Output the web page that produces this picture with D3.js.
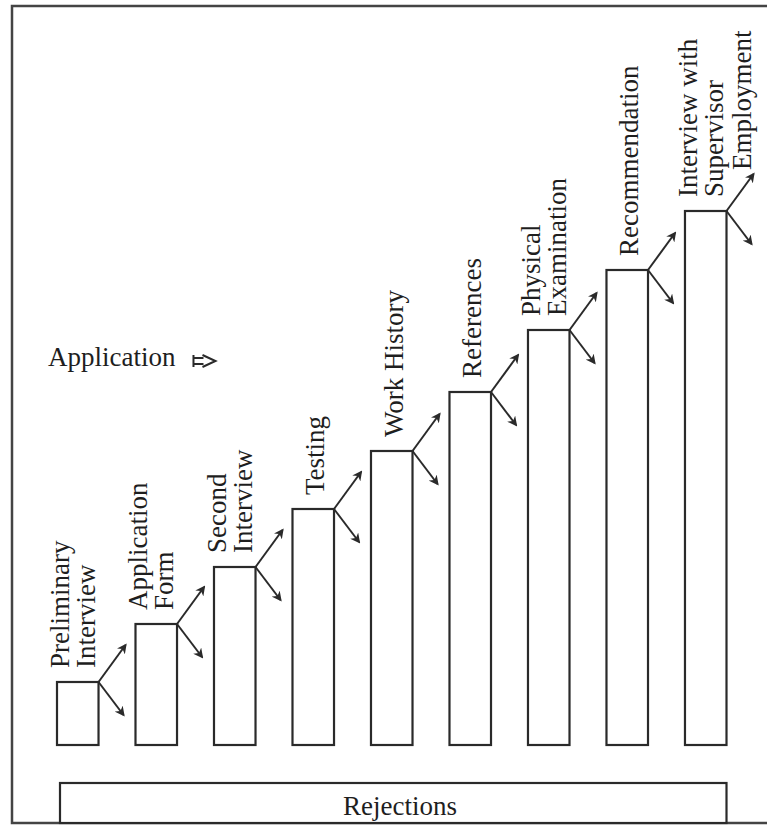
<!DOCTYPE html>
<html>
<head>
<meta charset="utf-8">
<script src="https://cdn.jsdelivr.net/npm/d3@7"></script>
<style>
  html, body { margin: 0; padding: 0; background: #fff; }
  svg { display: block; }
  .lbl { font-family: "Liberation Serif", "Times New Roman", serif; font-size: 27px; fill: #1e1e1e; }
</style>
</head>
<body>
<svg id="chart" width="767" height="826"></svg>
<script>
// stages of the selection process (each label may span two lines)
const stages = [
  ['Preliminary', 'Interview'],
  ['Application', 'Form'],
  ['Second', 'Interview'],
  ['Testing'],
  ['Work History'],
  ['References'],
  ['Physical', 'Examination'],
  ['Recommendation'],
  ['Interview with', 'Supervisor']
];
// relative step height of each stage
const levels = [63, 121, 178, 236, 294, 353, 415, 475, 534];
const entryLabel = 'Application';
const exitLabel = 'Employment';
const rejectLabel = 'Rejections';

(function () {
  'use strict';

  const W = 767, H = 826;
  const base = 745;
  const svg = d3.select('#chart');
  const ink = '#2a2a2a';

  svg.append('rect').attr('width', W).attr('height', H).attr('fill', '#fff');

  // outer frame (runs off the right edge)
  svg.append('rect')
    .attr('x', 12).attr('y', 6)
    .attr('width', W + 10).attr('height', 817)
    .attr('fill', 'none').attr('stroke', '#444').attr('stroke-width', 2.5);

  const idx = stages.map(function (d, i) { return i; });

  const x = d3.scaleBand()
    .domain(idx)
    .range([57, 726.5])
    .paddingInner(0.471)
    .paddingOuter(0);

  const y = d3.scaleLinear()
    .domain([0, 740])
    .range([base, base - 740]);

  // arrow head
  svg.append('defs').append('marker')
    .attr('id', 'head')
    .attr('viewBox', '0 0 10 10')
    .attr('refX', 8).attr('refY', 5)
    .attr('markerWidth', 5).attr('markerHeight', 5)
    .attr('orient', 'auto')
    .append('path')
    .attr('d', 'M0,0 L10,5 L0,10 L3,5 Z')
    .attr('fill', ink);

  // ─── Steps ────────────────────────────────────────
  svg.append('g').selectAll('rect')
    .data(idx)
    .join('rect')
    .attr('x', function (i) { return x(i); })
    .attr('y', function (i) { return y(levels[i]); })
    .attr('width', x.bandwidth())
    .attr('height', function (i) { return base - y(levels[i]); })
    .attr('fill', '#fff')
    .attr('stroke', ink)
    .attr('stroke-width', 2.2);

  // ─── Branch arrows (advance / reject) ─────────────
  const up = [27, -37], down = [25, 33];
  const arrows = svg.append('g')
    .attr('stroke', ink).attr('stroke-width', 2).attr('fill', 'none');

  idx.forEach(function (i) {
    const cx = x(i) + x.bandwidth(), cy = y(levels[i]);
    [up, down].forEach(function (v) {
      arrows.append('line')
        .attr('x1', cx).attr('y1', cy)
        .attr('x2', cx + v[0]).attr('y2', cy + v[1])
        .attr('marker-end', 'url(#head)');
    });
  });

  // ─── Rotated stage labels ─────────────────────────
  const gap = 14;
  idx.forEach(function (i) {
    const lines = stages[i];
    const c = x(i) + x.bandwidth() / 2;
    const by = y(levels[i]) - gap;
    const offs = lines.length === 2 ? [-17, 9] : [3];
    lines.forEach(function (t, k) {
      // baseline sits to the right of the glyph centre when rotated -90
      const bx = c + offs[k] + 8;
      svg.append('text')
        .attr('class', 'lbl')
        .attr('transform', 'translate(' + bx + ',' + by + ') rotate(-90)')
        .attr('text-anchor', 'start')
        .text(t);
    });
  });

  // final outcome
  const lastX = x(idx.length - 1) + x.bandwidth();
  const lastY = y(levels[levels.length - 1]);
  svg.append('text')
    .attr('class', 'lbl')
    .attr('transform', 'translate(' + (lastX + 24) + ',' + (lastY - 41) + ') rotate(-90)')
    .attr('text-anchor', 'start')
    .text(exitLabel);

  // ─── Entry label with its little arrow glyph ──────
  const ax = 48, ay = 366;
  const entry = svg.append('text')
    .attr('class', 'lbl')
    .attr('x', ax).attr('y', ay)
    .text(entryLabel);
  const ew = entry.node().getComputedTextLength();
  const gx = ax + ew + 18, gy = ay - 5;
  const glyph = svg.append('g')
    .attr('stroke', ink).attr('stroke-width', 2).attr('fill', 'none');
  glyph.append('path')
    .attr('d', 'M' + gx + ',' + (gy - 6) + 'v12' +
               'M' + gx + ',' + (gy - 3) + 'h10' +
               'M' + gx + ',' + (gy + 3) + 'h10');
  glyph.append('path')
    .attr('d', 'M' + (gx + 9) + ',' + (gy - 6) + 'L' + (gx + 22) + ',' + gy + 'L' + (gx + 9) + ',' + (gy + 6));

  // ─── Rejections bar ───────────────────────────────
  const r0 = x.range()[0] + 3, r1 = x.range()[1];
  svg.append('rect')
    .attr('x', r0).attr('y', 783)
    .attr('width', r1 - r0).attr('height', 40)
    .attr('fill', '#fff').attr('stroke', ink).attr('stroke-width', 2.2);
  svg.append('text')
    .attr('class', 'lbl')
    .attr('x', 400).attr('y', 815)
    .attr('text-anchor', 'middle')
    .text(rejectLabel);
})();
</script>
</body>
</html>
